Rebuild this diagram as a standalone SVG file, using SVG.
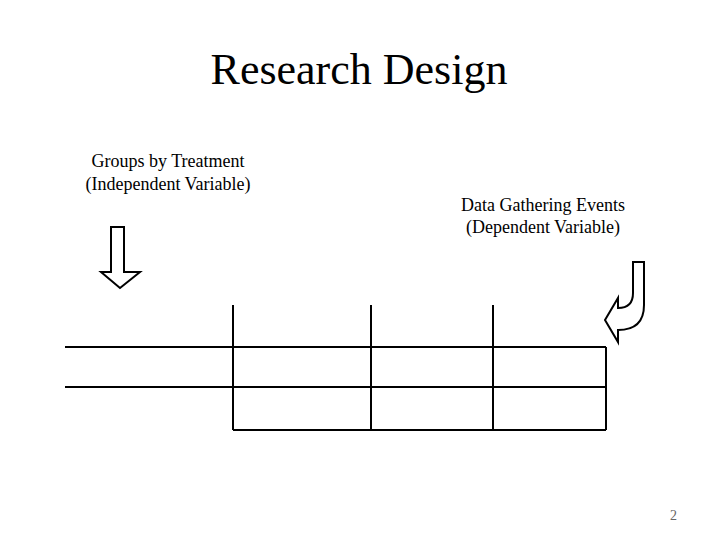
<svg xmlns="http://www.w3.org/2000/svg" width="720" height="540" viewBox="0 0 720 540">
<style>
text{font-family:"Liberation Serif",serif;fill:#000}
.l{stroke:#000;stroke-width:2;fill:none}
.a{stroke:#000;stroke-width:2;fill:#fff;stroke-linejoin:miter}
</style>
<rect width="720" height="540" fill="#fff"/>
<text x="359" y="84" font-size="44" text-anchor="middle">Research Design</text>
<g id="label-groups"><text x="168" y="167" font-size="18" text-anchor="middle">Groups by Treatment</text><text x="168" y="190" font-size="18" text-anchor="middle">(Independent Variable)</text></g>
<g id="label-data"><text x="543" y="211" font-size="18" text-anchor="middle">Data Gathering Events</text><text x="543" y="233" font-size="18" text-anchor="middle">(Dependent Variable)</text></g>
<g id="arrow-down"><path class="a" d="M111,227 L124,227 L124,272 L140,272 L120,288 L101,272 L111,272 Z"/></g>
<g id="arrow-curved"><path class="a" d="M633,262 L644,262 L644,305 Q644,330 618,330 L618,342 L605,320 L618,298 L618,308 Q633,308 633,293 Z"/></g>
<g id="connectors">
<path class="l" d="M65,347 H606 M65,387 H606 M233,430 H606 M233,305 V430 M371,305 V430 M493,305 V430 M606,347 V430"/>
</g>
<text x="677" y="520" font-size="14" text-anchor="end" style="fill:#666">2</text>
</svg>
